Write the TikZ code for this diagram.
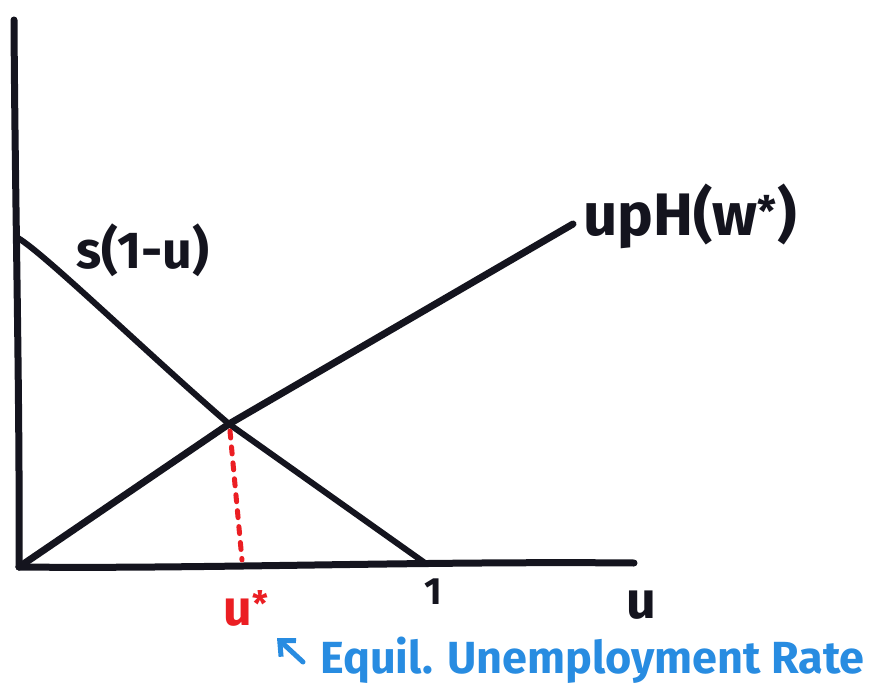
\documentclass[tikz,border=0pt]{standalone}
\usepackage{fontspec}
\setmainfont{Fira Sans}
\usetikzlibrary{arrows.meta}
\definecolor{ink}{RGB}{20,20,30}
\definecolor{redink}{RGB}{235,30,35}
\definecolor{blueink}{RGB}{40,140,225}
\tikzset{
  marker/.style={line width=7pt, ink, line cap=round, line join=round},
  reddash/.style={line width=5pt, redink, line cap=round, dash pattern=on 7pt off 9pt},
  lbl/.style={inner sep=0pt, font=\fontsize{#1}{#1}\selectfont\bfseries},
}
\begin{document}
\begin{tikzpicture}[x=1pt,y=-1pt]
\useasboundingbox[fill=white] (0,0) rectangle (869,695);
% key points
\coordinate (O) at (19,567);
\coordinate (ytop) at (14,20);
\coordinate (xend) at (634,563);
\coordinate (sA) at (18,238);
\coordinate (sB) at (425,563);
\coordinate (X) at (229,424);
\coordinate (hC) at (573,224);
\coordinate (foot) at (242,560);
% axes
\draw[marker] (ytop) .. controls (15,200) and (20,400) .. (O);
\draw[marker] (O) .. controls (200,569) and (420,561) .. (xend);
% s(1-u) curve
\draw[marker, line width=6pt] (sA) .. controls (45,254) and (150,356) .. (X) -- (sB);
% upH(w*) line
\draw[marker] (O) -- (X) -- (hC);
% red dashed drop
\draw[reddash] (X) ++(1,7) -- (foot);
% labels
\node[lbl=52, ink] (slab) at (143,250) {s(1-u)};
\node[lbl=60, ink] (hlab) at (690,216) {upH(w\textsuperscript{*})};
\node[lbl=50, redink] (ustar) at (246,608) {u\textsuperscript{*}};
\node[lbl=38, ink] (one) at (433,592) {1};
\node[lbl=52, ink] (ulab) at (641,605) {u};
\node[lbl=45, blueink, anchor=west] (eq) at (320,660) {Equil. Unemployment Rate};
\coordinate (atail) at (303,662);
\coordinate (ahead) at (277,638);
\draw[blueink, line width=5pt, line cap=round, -{Straight Barb[length=12pt,width=22pt]}] (atail) -- (ahead);
\end{tikzpicture}
\end{document}
